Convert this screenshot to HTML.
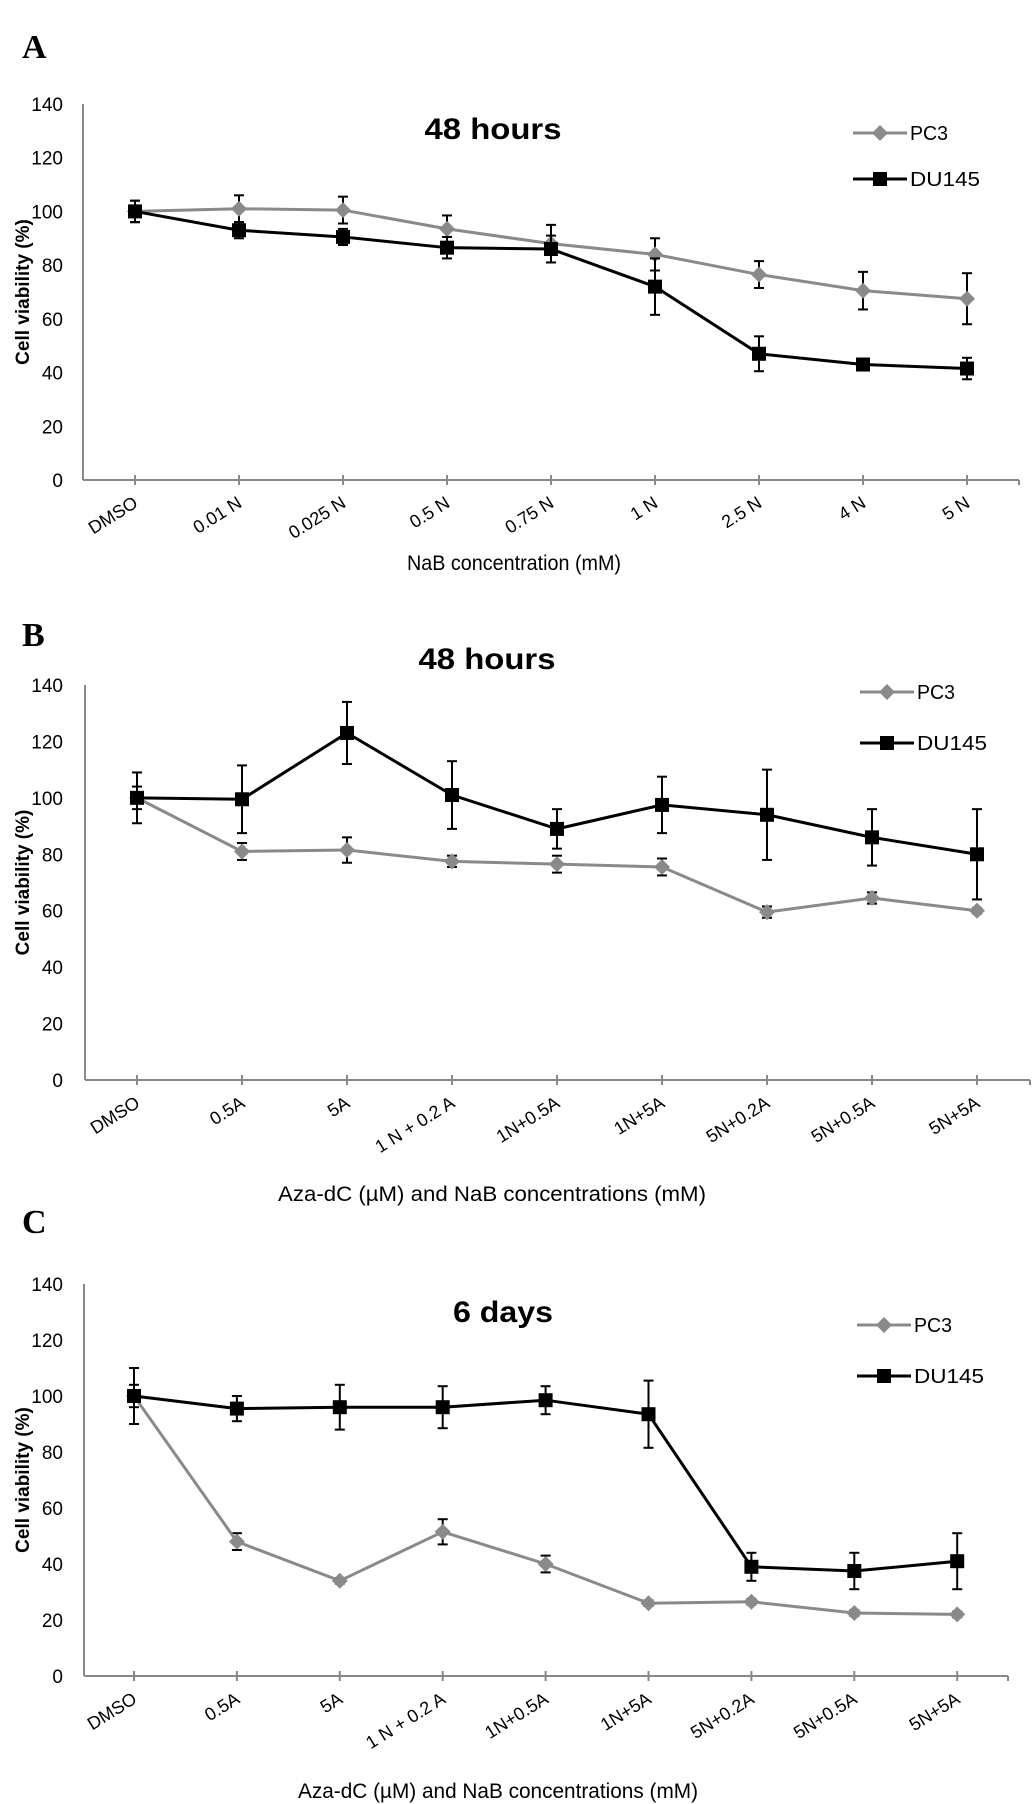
<!DOCTYPE html>
<html><head><meta charset="utf-8"><style>
html,body{margin:0;padding:0;background:#fff;}
svg{display:block;font-family:"Liberation Sans",sans-serif;}
</style></head><body>
<svg id="fig" width="1032" height="1804" viewBox="0 0 1032 1804"></svg>
<script>
const catsA = ["DMSO","0.01 N","0.025 N","0.5 N","0.75 N","1 N","2.5 N","4 N","5 N"];
const catsBC = ["DMSO","0.5A","5A","1 N + 0.2 A","1N+0.5A","1N+5A","5N+0.2A","5N+0.5A","5N+5A"];
const yTicks = [0,20,40,60,80,100,120,140];
const aPC3 = [100,101,100.5,93.5,88,84,76.5,70.5,67.5];
const aPC3Err = [4,5,5,5,7,6,5,7,9.5];
const aDU = [100,93,90.5,86.5,86,72,47,43,41.5];
const aDUErr = [4,3,3,4,5,10.5,6.5,1,4];
const bPC3 = [100,81,81.5,77.5,76.5,75.5,59.5,64.5,60];
const bPC3Err = [4,3,4.5,2,3,3,2,2,1];
const bDU = [100,99.5,123,101,89,97.5,94,86,80];
const bDUErr = [9,12,11,12,7,10,16,10,16];
const cPC3 = [100,48,34,51.5,40,26,26.5,22.5,22];
const cPC3Err = [4,3,1,4.5,3,1,1,1,1];
const cDU = [100,95.5,96,96,98.5,93.5,39,37.5,41];
const cDUErr = [10,4.5,8,7.5,5,12,5,6.5,10];

const NS="http://www.w3.org/2000/svg";
const svg=document.getElementById('fig');
function mk(tag,attrs,parent,text){const e=document.createElementNS(NS,tag);for(const k in attrs)e.setAttribute(k,attrs[k]);if(text!==undefined)e.textContent=text;(parent||svg).appendChild(e);return e;}

function panel(p){
  const g=mk('g',{});
  
  
  const yS=v=>p.y0-(v/140)*(p.y0-p.y140);
  const xS=i=>p.x0+i*p.dx;
  const lab=mk('text',{x:22,y:p.labY,'font-family':'Liberation Serif,serif','font-weight':'bold','font-size':34},g,p.id);
  
  
  const t=mk('text',{x:p.titleX,y:p.titleY,'text-anchor':'middle','font-weight':'bold','font-size':30,textLength:p.titleW,lengthAdjust:'spacingAndGlyphs'},g,p.title);
  
  
  const ya=mk('line',{x1:p.ax,y1:p.y140,x2:p.ax,y2:p.y0,stroke:'#888','stroke-width':2},g);
  
  
  const xa=mk('line',{x1:p.ax,y1:p.y0,x2:p.axEnd,y2:p.y0,stroke:'#888','stroke-width':2},g);
  
  
  mk('line',{x1:p.axEnd,y1:p.y0,x2:p.axEnd,y2:p.y0+5,stroke:'#888','stroke-width':2},g);
  yTicks.forEach(v=>{
    const tl=mk('text',{x:63,y:yS(v)+7,'text-anchor':'end','font-size':19},g,v);
    
    
  });
  p.cats.forEach((c,i)=>{
    mk('line',{x1:xS(i),y1:p.y0-5,x2:xS(i),y2:p.y0+5,stroke:'#888','stroke-width':2},g);
    const tx=xS(i)+4, ty=p.y0+26;
    const tl=mk('text',{x:tx,y:ty,'text-anchor':'end','font-size':18,transform:`rotate(-32 ${tx} ${ty})`},g,c);
    
    
  });
  const yt=mk('text',{x:0,y:0,'text-anchor':'middle','font-weight':'bold','font-size':19,transform:`translate(29 ${(p.y0+p.y140)/2}) rotate(-90)`},g,'Cell viability (%)');
  
  
  const xt=mk('text',{x:p.xtX,y:p.xtY,'text-anchor':'middle','font-size':21,textLength:p.xtW,lengthAdjust:'spacingAndGlyphs'},g,p.xTitle);
  
  
  function series(vals,errs,color,shape,name){
    const sg=mk('g',{},g);
    
    
    vals.forEach((v,i)=>{
      const x=xS(i),e=errs[i];
      mk('line',{x1:x,y1:yS(v-e),x2:x,y2:yS(v+e),stroke:'#000','stroke-width':2},sg);
      mk('line',{x1:x-5,y1:yS(v-e),x2:x+5,y2:yS(v-e),stroke:'#000','stroke-width':2},sg);
      mk('line',{x1:x-5,y1:yS(v+e),x2:x+5,y2:yS(v+e),stroke:'#000','stroke-width':2},sg);
    });
    const pl=mk('polyline',{points:vals.map((v,i)=>xS(i)+','+yS(v)).join(' '),fill:'none',stroke:color,'stroke-width':3},sg);
    
    
    vals.forEach((v,i)=>{
      const x=xS(i),y=yS(v);
      let m;
      if(shape==='sq') m=mk('rect',{x:x-7,y:y-7,width:14,height:14,fill:color},sg);
      else m=mk('polygon',{points:`${x},${y-8} ${x+8},${y} ${x},${y+8} ${x-8},${y}`,fill:color},sg);
      
      
    });
  }
  series(p.pc3,p.pc3e,'#8a8a8a','di','pc3');
  series(p.du,p.due,'#000','sq','du145');
  const lg=mk('g',{},g);
  
  
  const L=p.legX;
  mk('line',{x1:L,y1:p.leg1,x2:L+54,y2:p.leg1,stroke:'#8a8a8a','stroke-width':3},lg);
  mk('polygon',{points:`${L+27},${p.leg1-8} ${L+35},${p.leg1} ${L+27},${p.leg1+8} ${L+19},${p.leg1}`,fill:'#8a8a8a'},lg);
  mk('text',{x:L+57,y:p.leg1+7,'font-size':20,textLength:38,lengthAdjust:'spacingAndGlyphs'},lg,'PC3');
  mk('line',{x1:L,y1:p.leg2,x2:L+54,y2:p.leg2,stroke:'#000','stroke-width':3},lg);
  mk('rect',{x:L+20,y:p.leg2-7,width:14,height:14,fill:'#000'},lg);
  mk('text',{x:L+57,y:p.leg2+7,'font-size':20,textLength:70,lengthAdjust:'spacingAndGlyphs'},lg,'DU145');
}
panel({id:'A',labY:58,title:'48 hours',titleX:493,titleY:139,titleW:137,ax:83,axEnd:1019,x0:135,dx:104,y0:480,y140:104,
  cats:catsA,xTitle:'NaB concentration (mM)',xtX:514,xtY:570,xtW:214,pc3:aPC3,pc3e:aPC3Err,du:aDU,due:aDUErr,legX:853,leg1:133,leg2:179});
panel({id:'B',labY:646,title:'48 hours',titleX:487,titleY:669,titleW:137,ax:85,axEnd:1030,x0:137,dx:105,y0:1080,y140:685,
  cats:catsBC,xTitle:'Aza-dC (\u00b5M) and NaB concentrations (mM)',xtX:492,xtY:1201,xtW:428,pc3:bPC3,pc3e:bPC3Err,du:bDU,due:bDUErr,legX:860,leg1:692,leg2:743});
panel({id:'C',labY:1233,title:'6 days',titleX:503,titleY:1322,titleW:100,ax:84,axEnd:1008,x0:134,dx:102.9,y0:1676,y140:1284,
  cats:catsBC,xTitle:'Aza-dC (\u00b5M) and NaB concentrations (mM)',xtX:498,xtY:1798,xtW:400,pc3:cPC3,pc3e:cPC3Err,du:cDU,due:cDUErr,legX:857,leg1:1325,leg2:1376});
</script>
</body></html>
